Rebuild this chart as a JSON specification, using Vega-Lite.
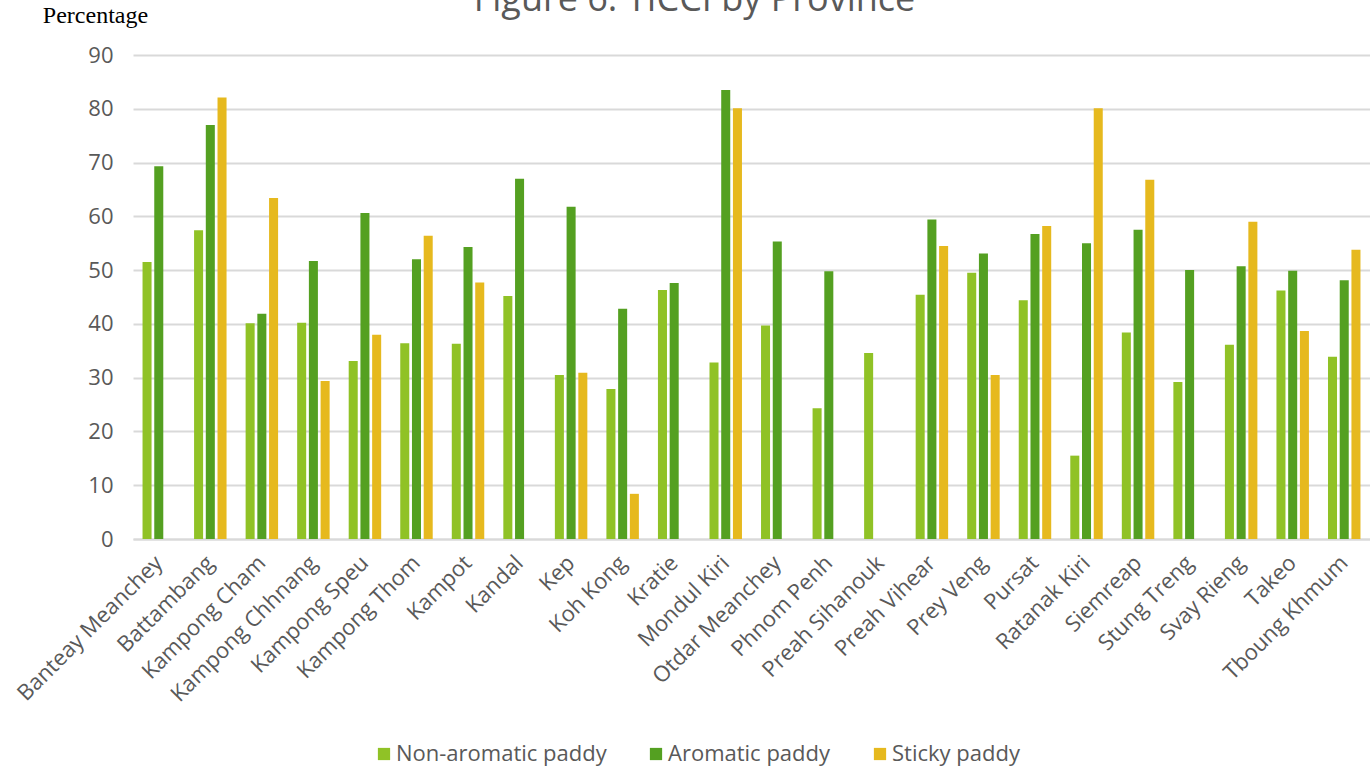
{
  "$schema": "https://vega.github.io/schema/vega-lite/v6.json",
  "autosize": {"type": "none"},
  "padding": {"left": 133, "top": 55, "right": 0, "bottom": 231},
  "width": 1237,
  "height": 484,
  "background": "white",
  "title": {
    "text": "Figure 6: TICCI by Province",
    "font": "Open Sans",
    "fontSize": 36,
    "fontWeight": "normal",
    "color": "#595959",
    "anchor": "middle",
    "baseline": "alphabetic",
    "offset": 0,
    "dy": 44,
    "dx": -57
  },
  "data": {
    "values": [
      {"province": "Banteay Meanchey", "type": "Non-aromatic paddy", "value": 51.5},
      {"province": "Banteay Meanchey", "type": "Aromatic paddy", "value": 69.3},
      {"province": "Battambang", "type": "Non-aromatic paddy", "value": 57.4},
      {"province": "Battambang", "type": "Aromatic paddy", "value": 77.0},
      {"province": "Battambang", "type": "Sticky paddy", "value": 82.1},
      {"province": "Kampong Cham", "type": "Non-aromatic paddy", "value": 40.1},
      {"province": "Kampong Cham", "type": "Aromatic paddy", "value": 41.9},
      {"province": "Kampong Cham", "type": "Sticky paddy", "value": 63.4},
      {"province": "Kampong Chhnang", "type": "Non-aromatic paddy", "value": 40.2},
      {"province": "Kampong Chhnang", "type": "Aromatic paddy", "value": 51.7},
      {"province": "Kampong Chhnang", "type": "Sticky paddy", "value": 29.4},
      {"province": "Kampong Speu", "type": "Non-aromatic paddy", "value": 33.1},
      {"province": "Kampong Speu", "type": "Aromatic paddy", "value": 60.6},
      {"province": "Kampong Speu", "type": "Sticky paddy", "value": 38.0},
      {"province": "Kampong Thom", "type": "Non-aromatic paddy", "value": 36.4},
      {"province": "Kampong Thom", "type": "Aromatic paddy", "value": 52.0},
      {"province": "Kampong Thom", "type": "Sticky paddy", "value": 56.4},
      {"province": "Kampot", "type": "Non-aromatic paddy", "value": 36.3},
      {"province": "Kampot", "type": "Aromatic paddy", "value": 54.3},
      {"province": "Kampot", "type": "Sticky paddy", "value": 47.7},
      {"province": "Kandal", "type": "Non-aromatic paddy", "value": 45.2},
      {"province": "Kandal", "type": "Aromatic paddy", "value": 67.0},
      {"province": "Kep", "type": "Non-aromatic paddy", "value": 30.5},
      {"province": "Kep", "type": "Aromatic paddy", "value": 61.8},
      {"province": "Kep", "type": "Sticky paddy", "value": 30.9},
      {"province": "Koh Kong", "type": "Non-aromatic paddy", "value": 27.9},
      {"province": "Koh Kong", "type": "Aromatic paddy", "value": 42.8},
      {"province": "Koh Kong", "type": "Sticky paddy", "value": 8.4},
      {"province": "Kratie", "type": "Non-aromatic paddy", "value": 46.3},
      {"province": "Kratie", "type": "Aromatic paddy", "value": 47.6},
      {"province": "Mondul Kiri", "type": "Non-aromatic paddy", "value": 32.8},
      {"province": "Mondul Kiri", "type": "Aromatic paddy", "value": 83.5},
      {"province": "Mondul Kiri", "type": "Sticky paddy", "value": 80.1},
      {"province": "Otdar Meanchey", "type": "Non-aromatic paddy", "value": 39.7},
      {"province": "Otdar Meanchey", "type": "Aromatic paddy", "value": 55.3},
      {"province": "Phnom Penh", "type": "Non-aromatic paddy", "value": 24.3},
      {"province": "Phnom Penh", "type": "Aromatic paddy", "value": 49.8},
      {"province": "Preah Sihanouk", "type": "Non-aromatic paddy", "value": 34.6},
      {"province": "Preah Vihear", "type": "Non-aromatic paddy", "value": 45.4},
      {"province": "Preah Vihear", "type": "Aromatic paddy", "value": 59.4},
      {"province": "Preah Vihear", "type": "Sticky paddy", "value": 54.5},
      {"province": "Prey Veng", "type": "Non-aromatic paddy", "value": 49.5},
      {"province": "Prey Veng", "type": "Aromatic paddy", "value": 53.1},
      {"province": "Prey Veng", "type": "Sticky paddy", "value": 30.5},
      {"province": "Pursat", "type": "Non-aromatic paddy", "value": 44.4},
      {"province": "Pursat", "type": "Aromatic paddy", "value": 56.7},
      {"province": "Pursat", "type": "Sticky paddy", "value": 58.2},
      {"province": "Ratanak Kiri", "type": "Non-aromatic paddy", "value": 15.5},
      {"province": "Ratanak Kiri", "type": "Aromatic paddy", "value": 55.0},
      {"province": "Ratanak Kiri", "type": "Sticky paddy", "value": 80.1},
      {"province": "Siemreap", "type": "Non-aromatic paddy", "value": 38.4},
      {"province": "Siemreap", "type": "Aromatic paddy", "value": 57.5},
      {"province": "Siemreap", "type": "Sticky paddy", "value": 66.8},
      {"province": "Stung Treng", "type": "Non-aromatic paddy", "value": 29.2},
      {"province": "Stung Treng", "type": "Aromatic paddy", "value": 50.0},
      {"province": "Svay Rieng", "type": "Non-aromatic paddy", "value": 36.1},
      {"province": "Svay Rieng", "type": "Aromatic paddy", "value": 50.7},
      {"province": "Svay Rieng", "type": "Sticky paddy", "value": 59.0},
      {"province": "Takeo", "type": "Non-aromatic paddy", "value": 46.2},
      {"province": "Takeo", "type": "Aromatic paddy", "value": 49.9},
      {"province": "Takeo", "type": "Sticky paddy", "value": 38.7},
      {"province": "Tboung Khmum", "type": "Non-aromatic paddy", "value": 33.9},
      {"province": "Tboung Khmum", "type": "Aromatic paddy", "value": 48.1},
      {"province": "Tboung Khmum", "type": "Sticky paddy", "value": 53.8}
    ]
  },
  "mark": {"type": "bar"},
  "encoding": {
    "x": {
      "field": "province",
      "type": "nominal",
      "sort": null,
      "title": null,
      "scale": {"paddingInner": 0.37, "paddingOuter": 0.185},
      "axis": {
        "labelAngle": -45,
        "labelAlign": "right",
        "labelBaseline": "middle",
        "labelFont": "Open Sans",
        "labelFontSize": 22,
        "labelColor": "#595959",
        "labelPadding": 20,
        "labelLimit": 0,
        "ticks": false,
        "domain": true,
        "domainColor": "#d9d9d9",
        "domainWidth": 2,
        "grid": false,
        "labelOverlap": false
      }
    },
    "xOffset": {
      "field": "type",
      "type": "nominal",
      "scale": {"domain": ["Non-aromatic paddy", "Aromatic paddy", "Sticky paddy"], "paddingInner": 0.23, "paddingOuter": 0}
    },
    "y": {
      "field": "value",
      "type": "quantitative",
      "scale": {"domain": [0, 90]},
      "title": "Percentage",
      "axis": {
        "values": [0, 10, 20, 30, 40, 50, 60, 70, 80, 90],
        "titleAngle": 0,
        "titleFont": "Liberation Serif",
        "titleFontSize": 24,
        "titleFontWeight": "normal",
        "titleColor": "black",
        "titleAlign": "center",
        "titleBaseline": "alphabetic",
        "titleX": -38,
        "titleY": -33,
        "labelFont": "Open Sans",
        "labelFontSize": 22,
        "labelColor": "#595959",
        "labelPadding": 20,
        "ticks": false,
        "domain": false,
        "gridColor": "#d9d9d9",
        "gridWidth": 2
      }
    },
    "color": {
      "field": "type",
      "type": "nominal",
      "title": null,
      "scale": {
        "domain": ["Non-aromatic paddy", "Aromatic paddy", "Sticky paddy"],
        "range": ["#90c226", "#54a021", "#e6b91e"]
      },
      "legend": {
        "orient": "none",
        "direction": "horizontal",
        "legendX": 240,
        "legendY": 688,
        "symbolType": "square",
        "symbolSize": 150,
        "symbolStrokeWidth": 0,
        "labelFont": "Open Sans",
        "labelFontSize": 22,
        "labelColor": "#595959",
        "labelOffset": 1,
        "labelLimit": 0,
        "columnPadding": 38
      }
    }
  },
  "config": {"view": {"stroke": null}}
}
